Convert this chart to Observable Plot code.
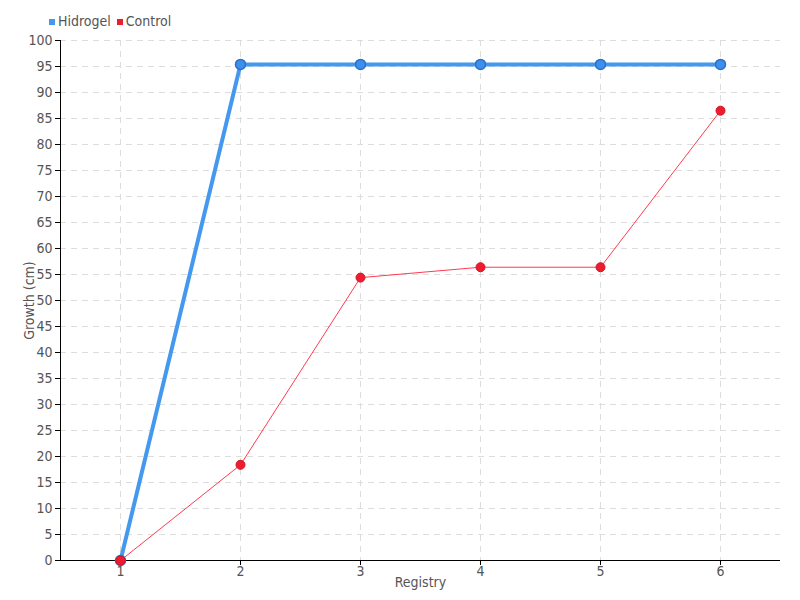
<!DOCTYPE html>
<html>
<head>
<meta charset="utf-8">
<script src="https://cdn.jsdelivr.net/npm/d3@7"></script>
<script src="https://cdn.jsdelivr.net/npm/@observablehq/plot@0.6"></script>
<style>
  body { margin: 0; background: #fff; font-family: "DejaVu Sans Condensed", "DejaVu Sans", sans-serif; }
  #wrap { position: relative; width: 800px; height: 600px; }
  #legend { position: absolute; left: 49px; top: 13px; font-size: 14px; color: #555; display: flex; gap: 6px; align-items: center; }
  .item { display: flex; align-items: center; gap: 3px; }
  .sw { width: 6px; height: 6px; display: inline-block; margin-top: 2px; }
</style>
</head>
<body>
<div id="wrap">
  <div id="legend"></div>
</div>
<script>
const registry = [1, 2, 3, 4, 5, 6];
const hidrogel = [0, 95.4, 95.4, 95.4, 95.4, 95.4];
const control = [0, 18.4, 54.4, 56.4, 56.4, 86.5];
const seriesNames = ["Hidrogel", "Control"];
const seriesColors = ["#4499ee", "#ee1c2e"];
const yTicks = d3.range(0, 101, 5);

const hData = registry.map((r, i) => ({x: r, y: hidrogel[i]}));
const cData = registry.map((r, i) => ({x: r, y: control[i]}));

const plot = Plot.plot({
  width: 800,
  height: 600,
  marginLeft: 60,
  marginRight: 20,
  marginTop: 40,
  marginBottom: 40,
  style: {fontFamily: '"DejaVu Sans Condensed", "DejaVu Sans", sans-serif', fontSize: "14px", color: "#555", background: "#fff"},
  x: {type: "linear", domain: [0.5, 6.5]},
  y: {domain: [0, 100]},
  marks: [
    Plot.gridX(registry, {stroke: "#ddd", strokeOpacity: 1, strokeDasharray: "6,5"}),
    Plot.gridY(yTicks.slice(1), {stroke: "#ddd", strokeOpacity: 1, strokeDasharray: "6,5"}),
    Plot.axisX(registry, {tickSize: 5, tickPadding: 1, tickFormat: "d", stroke: "#000", color: "#555", label: "Registry", labelAnchor: "center", labelArrow: "none", labelOffset: 26}),
    Plot.axisY(yTicks, {tickSize: 5, tickPadding: 3, stroke: "#000", color: "#555", label: "Growth (cm)", labelAnchor: "center", labelArrow: "none", labelOffset: 36}),
    Plot.ruleY([0], {stroke: "#000", strokeWidth: 1}),
    Plot.ruleX([0.5], {stroke: "#000", strokeWidth: 1}),
    Plot.line(cData, {x: "x", y: "y", stroke: "#ff3b4e", strokeWidth: 1}),
    Plot.line(hData, {x: "x", y: "y", stroke: "#4499ee", strokeWidth: 4}),
    Plot.dot(hData, {x: "x", y: "y", r: 5, fill: "#3d8fee", stroke: "#2a6fc8", strokeWidth: 1.5}),
    Plot.dot(cData, {x: "x", y: "y", r: 4.5, fill: "#ee1c2e", stroke: "#d01525", strokeWidth: 1})
  ]
});
document.getElementById("wrap").appendChild(plot);

const legend = document.getElementById("legend");
seriesNames.forEach((n, i) => {
  const it = document.createElement("span");
  it.className = "item";
  const sw = document.createElement("span");
  sw.className = "sw";
  sw.style.background = seriesColors[i];
  it.appendChild(sw);
  it.appendChild(document.createTextNode(n));
  legend.appendChild(it);
});
</script>
</body>
</html>
